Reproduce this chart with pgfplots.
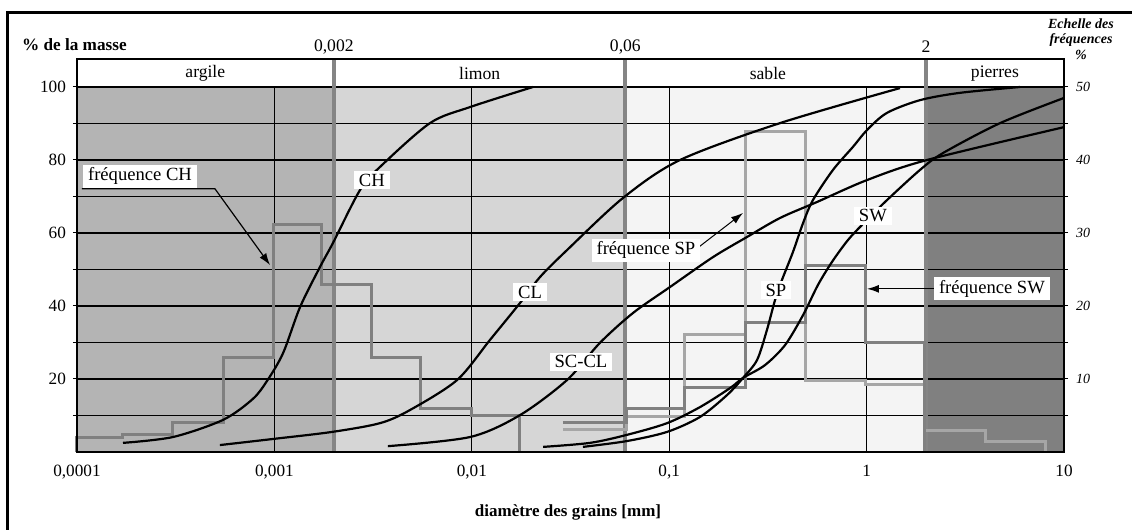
\documentclass[border=0pt]{standalone}
\usepackage{fontspec}
\setmainfont{Liberation Serif}
\usepackage{pgfplots}
\pgfplotsset{compat=1.18}
\usepackage{pgfplotstable}
\usetikzlibrary{arrows.meta}

\definecolor{argile}{HTML}{B4B4B4}
\definecolor{limon}{HTML}{D6D6D6}
\definecolor{sable}{HTML}{F4F4F4}
\definecolor{pierres}{HTML}{808080}
\definecolor{bound}{HTML}{858585}
\definecolor{histdark}{HTML}{808080}
\definecolor{histlight}{HTML}{A6A6A6}

% x = log10(diametre en mm), v = % de la masse
\pgfplotstableread{
L v
-3.767 2.5
-3.514 4.1
-3.260 8.8
-3.110 14.5
-3.037 19.5
-2.956 27.1
-2.870 39.7
-2.769 50.7
-2.703 57.3
-2.566 71.8
-2.465 78.1
-2.212 90.1
-2.009 94.5
-1.690 100
}\curveCH

\pgfplotstableread{
L v
-3.276 1.9
-3.002 3.6
-2.708 5.5
-2.465 7.9
-2.313 11.5
-2.075 19.7
-1.908 30.7
-1.756 40.8
-1.655 47.9
-1.518 55.3
-1.234 69.6
-0.945 80.0
-0.439 90.1
0.169 99.7
}\curveCL

\pgfplotstableread{
L v
-2.425 1.6
-2.009 4.1
-1.756 10.1
-1.518 19.7
-1.351 29.9
-1.183 38.1
-0.996 45.2
-0.778 53.4
-0.606 58.9
-0.439 64.1
-0.251 68.5
0.002 74.5
0.306 80.0
1.000 89.0
}\curveSCCL

\pgfplotstableread{
L v
-1.437 1.4
-1.214 3.0
-1.011 5.5
-0.844 9.6
-0.707 15.6
-0.626 20.3
-0.555 25.2
-0.505 33.4
-0.464 41.6
-0.429 47.1
-0.373 54.8
-0.322 62.7
-0.272 69.0
-0.170 77.3
-0.069 83.6
0.002 88.2
0.103 92.9
0.271 96.4
0.473 98.4
0.777 100
}\curveSP

\pgfplotstableread{
L v
-1.639 1.4
-1.401 2.5
-1.214 4.7
-1.011 7.9
-0.844 12.3
-0.692 17.5
-0.626 20.3
-0.515 23.8
-0.413 29.3
-0.322 37.5
-0.246 45.8
-0.175 52.1
-0.094 58.1
-0.018 62.5
0.103 69.0
0.271 77.3
0.387 81.9
0.676 90.1
1.000 97.0
}\curveSW

% frequences (echelle de droite, %)
\pgfplotstableread{
L f
-4.000 0
-4.000 1.92
-3.767 2.33
-3.514 4.10
-3.260 13.0
-3.007 31.2
-2.759 23.0
-2.506 13.0
-2.262 6.0
-1.999 5.05
-1.756 0
}\histCH

\pgfplotstableread{
L f
-1.538 3.15
-1.214 4.8
-0.920 16.15
-0.616 43.85
-0.312 9.75
-0.008 9.3
0.295 3.0
0.600 1.37
0.904 0
}\histSP

\pgfplotstableread{
L f
-1.538 4.1
-1.214 6.0
-0.920 8.9
-0.616 17.8
-0.312 25.5
-0.008 14.95
0.295 0
}\histSW

\begin{document}
\begin{tikzpicture}
\useasboundingbox (-38.5pt,-39pt) rectangle (527.5pt,226pt);
\draw[line width=1.5pt] (-34.5pt,-39pt) -- (-34.5pt,219.5pt) -- (527.5pt,219.5pt);

\begin{axis}[
  at={(0,0)}, anchor=south west, scale only axis,
  width=493.5pt, height=196.5pt,
  xmin=-4, xmax=1, ymin=0, ymax=107.67,
  axis on top, clip=false,
  xtick={-4,-3,-2,-1,0,1},
  xticklabels={{0,0001},{0,001},{0,01},{0,1},1,10},
  ytick={10,20,30,40,50,60,70,80,90,100},
  yticklabels={,20,,40,,60,,80,,100},
  tick align=outside, major tick length=2pt,
  tick style={black, line width=0.5pt},
  xtick style={draw=none},
  axis line style={black, line width=0.7pt},
  ticklabel style={font=\fontsize{8.6}{10}\selectfont},
  xticklabel style={yshift=-1pt},
  every axis plot/.append style={line join=miter},
]
% zones
\addplot[draw=none, fill=argile] coordinates {(-4,100) (-2.699,100)} \closedcycle;
\addplot[draw=none, fill=limon] coordinates {(-2.699,100) (-1.222,100)} \closedcycle;
\addplot[draw=none, fill=sable] coordinates {(-1.222,100) (0.301,100)} \closedcycle;
\addplot[draw=none, fill=pierres] coordinates {(0.301,100) (1,100)} \closedcycle;
% grille
\pgfplotsinvokeforeach{10,20,30,40,50,60,70,80,90,100}{
  \draw[black, line width=0.6pt] (axis cs:-4,#1) -- (axis cs:1,#1);
}
\pgfplotsinvokeforeach{-3,-2,-1,0}{
  \draw[black, line width=0.6pt] (axis cs:#1,0) -- (axis cs:#1,100);
}
% limites des zones
\pgfplotsinvokeforeach{-2.699,-1.222,0.301}{
  \draw[bound, line width=2pt] (axis cs:#1,0) -- (axis cs:#1,107.67);
}
% histogrammes (frequences, echelle de droite = moitie)
\addplot[const plot, histdark, line width=1.5pt] table[x=L, y expr=2*\thisrow{f}] {\histCH};
\addplot[const plot, histlight, line width=1.5pt] table[x=L, y expr=2*\thisrow{f}] {\histSP};
\addplot[const plot, histdark, line width=1.5pt] table[x=L, y expr=2*\thisrow{f}] {\histSW};
% courbes granulometriques
\addplot[black, line width=1.1pt, smooth, tension=0.5] table[x=L, y=v] {\curveCH};
\addplot[black, line width=1.1pt, smooth, tension=0.5] table[x=L, y=v] {\curveCL};
\addplot[black, line width=1.1pt, smooth, tension=0.5] table[x=L, y=v] {\curveSCCL};
\addplot[black, line width=1.1pt, smooth, tension=0.5] table[x=L, y=v] {\curveSP};
\addplot[black, line width=1.1pt, smooth, tension=0.5] table[x=L, y=v] {\curveSW};

% en-tete
\begin{scope}[every node/.style={font=\fontsize{8.8}{10}\selectfont}]
\node at (axis cs:-3.35,103.8) {argile};
\node at (axis cs:-1.96,103.8) {limon};
\node at (axis cs:-0.50,103.8) {sable};
\node at (axis cs:0.65,103.8) {pierres};
\node at (axis cs:-2.699,110.96) {0,002};
\node at (axis cs:-1.222,110.96) {0,06};
\node at (axis cs:0.301,110.96) {2};
\end{scope}

% annotations
\begin{scope}[every node/.style={fill=white, inner xsep=2.5pt, inner ysep=1.5pt, font=\fontsize{9.3}{10}\selectfont}]
\draw[black, line width=0.6pt, -{Latex[length=6pt,width=4pt]}] (axis cs:-3.975,72.1) -- (axis cs:-3.301,72.1) -- (axis cs:-3.022,51.2);
\node at (axis cs:-3.681,75.6) {fréquence CH};
\node at (axis cs:-2.506,74.5) {CH};
\node at (axis cs:-1.705,43.8) {CL};
\node at (axis cs:-1.447,24.7) {SC-CL};
\draw[black, line width=0.5pt, -{Latex[length=6pt,width=4pt]}] (axis cs:-0.856,55.9) -- (axis cs:-0.626,65.5);
\node at (axis cs:-1.118,55.3) {fréquence SP};
\node at (axis cs:-0.459,44.4) {SP};
\node at (axis cs:0.032,64.7) {SW};
\draw[black, line width=0.6pt, -{Latex[length=6pt,width=4pt]}] (axis cs:0.357,44.7) -- (axis cs:0.002,44.7);
\node at (axis cs:0.635,44.7) {fréquence SW};
\end{scope}
\end{axis}

\begin{axis}[
  at={(0,0)}, anchor=south west, scale only axis,
  width=493.5pt, height=196.5pt,
  xmin=0, xmax=1, ymin=0, ymax=53.835,
  axis x line=none, axis y line*=right,
  y axis line style={draw=none},
  ytick={10,20,30,40,50}, yticklabels={10,20,30,40,50},
  major tick length=0pt,
  yticklabel style={font=\itshape\fontsize{7}{8}\selectfont, anchor=west, xshift=2.5pt},
]
\end{axis}

\node[anchor=west, font=\bfseries\fontsize{8.6}{10}\selectfont] at (-31pt,203.5pt) {\% de la masse};
\node[font=\bfseries\fontsize{8.5}{10}\selectfont] at (245.5pt,-30pt) {diamètre des grains [mm]};
\node[align=center, font=\bfseries\itshape\fontsize{7}{7.8}\selectfont] at (502pt,206.5pt) {Echelle des\\fréquences\\\%};
\end{tikzpicture}
\end{document}
